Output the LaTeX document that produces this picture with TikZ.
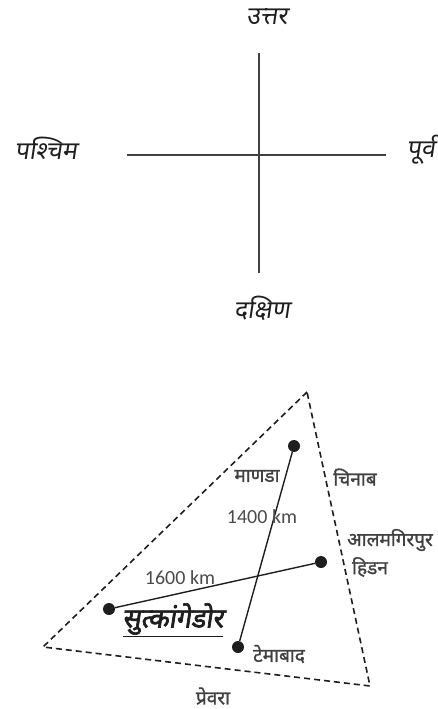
\documentclass[tikz,border=0pt]{standalone}
\usepackage{fontspec}
\setmainfont{Carlito}
\newfontfamily\deva[Script=Devanagari,FakeBold=1.2]{Noto Sans}
\newfontfamily\devaslant[Script=Devanagari,FakeSlant=0.15]{Noto Sans}
\newfontfamily\devaheavy[Script=Devanagari,FakeSlant=0.15,FakeBold=2.5]{Noto Sans}
\usetikzlibrary{positioning}
\definecolor{mapInk}{HTML}{1E1E1E}
\tikzset{
  compassline/.style={draw=mapInk!85,line width=1.2pt},
  dirlabel/.style={font=\devaslant\fontsize{25}{28}\selectfont,text=mapInk,inner sep=1pt},
  borderline/.style={draw=mapInk,line width=1.6pt,dash pattern=on 6pt off 4pt},
  site/.style={circle,fill=mapInk,inner sep=0pt,minimum size=12pt},
  route/.style={draw=mapInk,line width=1.4pt},
  placelabel/.style={font=\deva\bfseries\fontsize{19}{22}\selectfont,text=mapInk!85,inner sep=1pt},
  distlabel/.style={font=\fontsize{20}{23}\selectfont,text=mapInk!80,inner sep=1pt}
}

\begin{document}
\begin{tikzpicture}[x=1pt,y=-1pt]
  \useasboundingbox (0,0) rectangle (438,709);
  % compass
  \coordinate (top) at (259,53);
  \coordinate (bottom) at (259,273);
  \coordinate (left) at (127,155);
  \coordinate (right) at (386,155);
  \draw[compassline] (top) -- (bottom);
  \draw[compassline] (left) -- (right);
  \node[dirlabel] (north) at (267,17) {उत्तर};
  \node[dirlabel] (west) at (46,148) {पश्चिम};
  \node[dirlabel] (east) at (421,150) {पूर्व};
  \node[dirlabel] (south) at (262,308) {दक्षिण};

  % region
  \coordinate (apex) at (307,392);
  \coordinate (corner) at (43,647);
  \coordinate (foot) at (370,686);
  \draw[borderline] (apex) -- (corner) -- (foot) -- cycle;

  % sites
  \node[site] (manda) at (294,446) {};
  \node[site] (daimabad) at (238,647) {};
  \node[site] (hindon) at (321,562) {};
  \node[site] (sutka) at (109,609) {};
  \draw[route] (manda) -- (daimabad);
  \draw[route] (sutka) -- (hindon);

  \node[placelabel] (mandaname) at (257,476) {माणडा};
  \node[placelabel] (chenab) at (355,477) {चिनाब};
  \node[distlabel] (northsouth) at (262,517) {1400 km};
  \node[placelabel] (alamgir) at (390,540) {आलमगिरपुर};
  \node[placelabel] (hindonname) at (370,567) {हिडन};
  \node[distlabel] (eastwest) at (180,578) {1600 km};
  \node[placelabel,font=\devaheavy\fontsize{27}{30}\selectfont,text=mapInk] (sutkaname) at (173,620) {\underline{सुत्कांगेडोर}};
  \node[placelabel] (daimabadname) at (279,654) {टेमाबाद};
  \node[placelabel] (pravara) at (213,696) {प्रेवरा};
\end{tikzpicture}
\end{document}
